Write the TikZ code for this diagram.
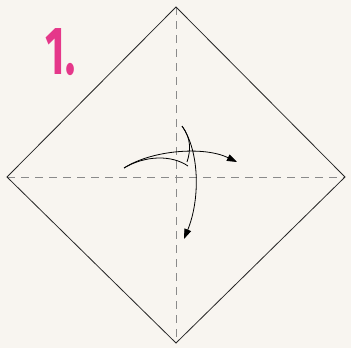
\documentclass[tikz,border=0pt]{standalone}
\usepackage{fontspec}
\setsansfont{Fira Sans}
\usetikzlibrary{arrows.meta}
\definecolor{paper}{HTML}{F8F5F0}
\definecolor{pink}{HTML}{E5378A}
\definecolor{crease}{HTML}{8A8A8A}
\begin{document}
\begin{tikzpicture}[>={Triangle[length=10pt,width=7pt]},x=1pt,y=-1pt]
\fill[paper] (0,0) rectangle (351,348);
\useasboundingbox (0,0) rectangle (351,348);

% Paper square turned on its corner, with both diagonal creases.
\draw[crease,line width=1pt,dash pattern=on 8pt off 6pt] (176,7)--(176,343);
\draw[crease,line width=1pt,dash pattern=on 8pt off 6pt] (7,177)--(345,177);
\draw[black!85,line width=0.8pt,line join=miter] (176,7)--(345,177)--(176,343)--(7,177)--cycle;

\node[text=pink,font=\fontsize{68}{68}\selectfont\sffamily\bfseries,anchor=north west,inner sep=0pt,xscale=0.62] (step) at (45,28) {1\kern2pt.};

% Fold arrows: right and down.
\draw[->,line width=0.8pt] (124,168) .. controls (152,150) and (204,146) .. (237,162);
\draw[line width=0.8pt] (124,168) .. controls (146,155) and (172,155) .. (188,166);
\draw[->,line width=0.8pt] (182,126) .. controls (200,152) and (200,200) .. (184,239);
\draw[line width=0.8pt] (182,126) .. controls (191,138) and (191,150) .. (187,162);
\end{tikzpicture}
\end{document}
